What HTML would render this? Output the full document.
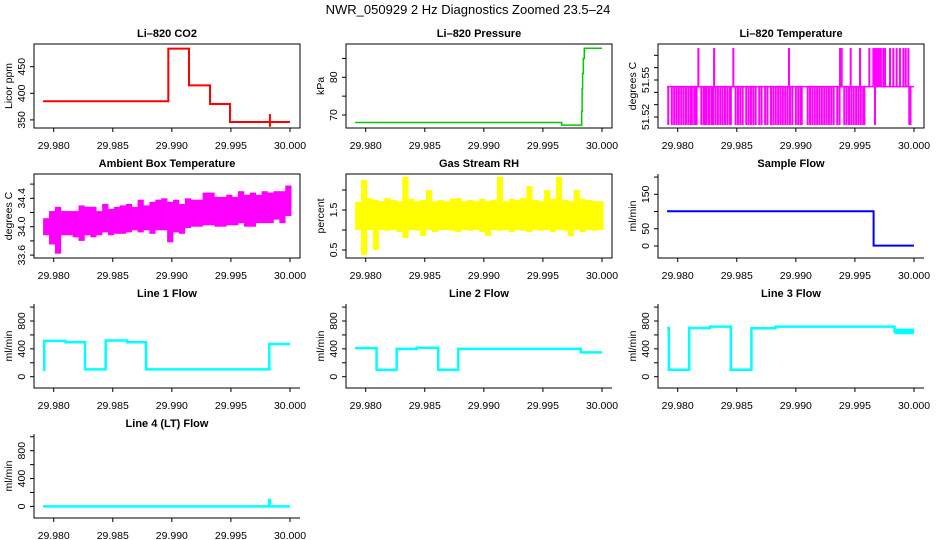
<!DOCTYPE html>
<html><head><meta charset="utf-8">
<style>
html,body{margin:0;padding:0;background:#fff;}
svg{display:block;font-family:"Liberation Sans",Arial,sans-serif;}
</style></head>
<body>
<svg id="chart" width="936" height="540" viewBox="0 0 936 540">
<rect x="0" y="0" width="936" height="540" fill="#fff"/>
<text x="468" y="14" text-anchor="middle" font-size="13">NWR_050929  2 Hz Diagnostics Zoomed 23.5–24</text>
</svg>
<script>
// ---- data ----
const xTicks = [29.980, 29.985, 29.990, 29.995, 30.000];
const xTickLabels = ["29.980", "29.985", "29.990", "29.995", "30.000"];
const xStart = 29.9791;
const xEnd = 30.0;

const co2T = [29.9791, 29.9897, 29.99145, 29.99323, 29.99492];
const co2V = [385, 484, 415, 380, 346];
const co2SpikeT = [29.9983];
const co2SpikeLo = [337];
const co2SpikeHi = [361];

const presT = [29.9791, 29.99659, 29.99828, 29.99832, 29.99836, 29.99842, 29.9985];
const presV = [68.0, 67.3, 71, 77, 81, 85, 87.7];

const tempBase = 51.5446;
const tempLow = 51.5135;
const tempHigh = 51.5759;
const tempDownT = [29.9792,29.9795,29.9797,29.9799,29.9801,29.9803,29.9805,29.9807,29.9809,29.9811,29.9812,29.9814,29.9815,29.9816,
29.9820,29.9822,29.9823,29.9824,29.9826,29.9827,29.9829,29.9830,29.9832,29.9834,29.9836,29.9838,29.9840,29.9842,29.9844,29.9845,
29.9849,29.9851,29.9853,29.9855,29.9858,29.9860,29.9862,29.9864,29.9866,29.9869,29.9871,29.9874,29.9876,29.9879,29.9881,29.9883,29.9885,29.9887,29.9889,29.9891,29.9893,29.9895,29.9897,29.9900,29.9902,29.9904,29.9905,
29.9910,29.9912,29.9914,29.9916,29.9918,29.9920,29.9922,29.9924,29.9926,29.9928,29.9930,29.9932,29.9935,29.9937,
29.9941,29.9943,29.9945,29.9947,29.9949,29.9951,29.9953,29.9955,29.9957,29.9958,29.9967,29.9996,29.9997];
const tempUpT = [29.98175,29.98308,29.98471,29.98942,29.99374,29.99388,29.99464,29.99543,29.99622,29.99656,29.99670,29.99684,29.99698,29.9971,29.9972,29.9974,29.99755,29.99797,29.99825,29.99853,29.99881,29.99910,29.9993,29.99952];

const binStart = 29.9791;
const binWidth = 0.0005;
const ambHi = [34.12,34.22,34.28,34.22,34.22,34.22,34.30,34.28,34.28,34.22,34.32,34.25,34.28,34.30,34.32,34.28,34.38,34.30,34.35,34.38,34.40,34.35,34.38,34.32,34.40,34.38,34.38,34.48,34.48,34.42,34.42,34.45,34.42,34.50,34.45,34.48,34.45,34.50,34.48,34.50,34.50,34.58];
const ambLo = [33.88,33.75,33.62,33.88,33.88,33.85,33.80,33.88,33.85,33.88,33.92,33.88,33.90,33.90,33.92,33.95,33.92,33.95,33.90,33.95,33.95,33.78,33.92,33.90,33.98,34.00,34.00,34.02,34.02,34.00,34.00,34.02,34.02,34.05,34.00,34.00,34.05,34.05,34.05,34.10,34.05,34.15];
const rhHi = [1.70,2.25,1.80,1.75,1.72,1.80,1.75,1.72,2.33,1.78,1.72,1.75,2.00,1.72,1.75,1.72,1.78,1.80,1.72,1.75,1.72,1.78,1.72,1.75,2.33,1.72,1.78,1.75,1.80,2.10,1.75,1.72,2.00,1.78,2.33,1.75,1.72,2.00,1.78,1.75,1.72,1.72];
const rhLo = [1.00,0.38,1.00,0.50,1.00,0.98,1.00,0.95,0.80,1.00,0.98,0.85,1.00,0.95,1.00,1.00,0.98,0.95,1.00,0.98,1.00,0.95,0.85,1.00,0.98,1.00,0.95,1.00,0.98,0.95,1.00,0.98,1.00,0.95,1.00,0.98,0.85,1.00,0.95,1.00,0.98,1.00];

const sampT = [29.9791, 29.99658];
const sampV = [101, 1];

const l1T = [29.9791, 29.9792, 29.981, 29.98265, 29.9844, 29.9862, 29.98781, 29.99825];
const l1V = [100, 515, 495, 105, 520, 495, 105, 470];
const l2T = [29.9791, 29.98092, 29.98262, 29.98431, 29.98614, 29.98783, 29.9982];
const l2V = [410, 98, 400, 415, 98, 400, 350];
const l3T = [29.9791, 29.97925, 29.98097, 29.98274, 29.9845, 29.98624, 29.98827, 29.99835];
const l3V = [700, 100, 700, 720, 100, 695, 720, 650];
const l3BandT = [29.99835, 30.0];
const l3BandV = [610, 690];
const l4T = [29.9791, 29.99822, 29.99830];
const l4V = [0, 90, 0];

// ---- rendering ----
const NS = "http://www.w3.org/2000/svg";
const svg = document.getElementById("chart");
function mk(tag, parent, attrs) {
  const el = document.createElementNS(NS, tag);
  for (const k in attrs) el.setAttribute(k, attrs[k]);
  parent.appendChild(el);
  return el;
}

function panel(col, row, key, title, ylab, yv0, yp0, yv1, yp1, ticks, labels, labelText, fullBox) {
  const ox = col * 312, top = 44 + row * 130;
  const L = ox + 34, R = ox + 300, B = top + 84;
  const g = mk("g", svg, {});
  
  
  const X = x => ox + 53.7 + (x - 29.98) * 11815;
  const Y = v => top + yp0 + (v - yv0) * (yp1 - yp0) / (yv1 - yv0);
  const t = mk("text", g, {x: ox + 167, y: top - 7, "text-anchor": "middle", "font-size": 11, "font-weight": "bold"});
  t.textContent = title;
  
  
  const yl = mk("text", g, {x: 0, y: 0, "text-anchor": "middle", "font-size": 10.5, transform: `translate(${ox + 12},${top + 42}) rotate(-90)`});
  yl.textContent = ylab;
  
  
  let frame;
  if (fullBox) frame = mk("rect", g, {x: L, y: top, width: R - L, height: B - top, fill: "none", stroke: "#000", "stroke-width": 1});
  else frame = mk("path", g, {d: `M${L},${top}V${B}H${R}`, fill: "none", stroke: "#000", "stroke-width": 1});
  
  
  const ya = mk("g", g, {});
  
  
  const yTop = Y(ticks[ticks.length - 1]), yBot = Y(ticks[0]);
  mk("line", ya, {x1: L, x2: L, y1: Math.min(yTop, yBot), y2: Math.max(yTop, yBot), stroke: "#000"});
  ticks.forEach(v => {
    const tk = mk("line", ya, {x1: L - 4, x2: L, y1: Y(v), y2: Y(v), stroke: "#000"});
    
    
  });
  labels.forEach((v, i) => {
    const lb = mk("text", ya, {x: 0, y: 0, "text-anchor": "middle", "font-size": 10.5, transform: `translate(${L - 9},${Y(v)}) rotate(-90)`});
    lb.textContent = labelText[i];
    
    
  });
  const xa = mk("g", g, {});
  
  
  xTicks.forEach((v, i) => {
    const tk = mk("line", xa, {x1: X(v), x2: X(v), y1: B, y2: B + 4, stroke: "#000"});
    
    
    const lb = mk("text", xa, {x: X(v), y: top + 105, "text-anchor": "middle", "font-size": 10.5});
    lb.textContent = xTickLabels[i];
    
    
  });
  const data = mk("g", g, {});
  
  
  return {g: data, X, Y};
}

function stepPath(p, T, V, end, color, w, name) {
  let d = "";
  for (let i = 0; i < T.length; i++) {
    const x0 = p.X(T[i]), x1 = p.X(i + 1 < T.length ? T[i + 1] : end), y = p.Y(V[i]);
    d += (i === 0 ? `M${x0},${y}` : `V${y}`) + `H${x1}`;
  }
  const el = mk("path", p.g, {d, fill: "none", stroke: color, "stroke-width": w});
  
  
}
function bins(p, lo, hi, color, name) {
  for (let i = 0; i < lo.length; i++) {
    const x0 = p.X(binStart + i * binWidth), x1 = p.X(binStart + (i + 1) * binWidth);
    const el = mk("rect", p.g, {x: x0, y: p.Y(hi[i]), width: x1 - x0 + 0.3, height: p.Y(lo[i]) - p.Y(hi[i]), fill: color});
    
    
  }
}

// CO2
let p = panel(0, 0, "co2", "Li–820 CO2", "Licor ppm", 450, 22.7, 400, 49.3, [350, 400, 450], [350, 400, 450], ["350", "400", "450"], true);
stepPath(p, co2T, co2V, xEnd, "#ff0000", 2, "co2-line");
co2SpikeT.forEach((t, i) => {
  const el = mk("line", p.g, {x1: p.X(t), x2: p.X(t), y1: p.Y(co2SpikeLo[i]), y2: p.Y(co2SpikeHi[i]), stroke: "#ff0000", "stroke-width": 2});
  
  
});

// Pressure
p = panel(1, 0, "pressure", "Li–820 Pressure", "kPa", 70, 71, 80, 33.3, [70, 75, 80, 85], [70, 80], ["70", "80"], true);
stepPath(p, presT, presV, xEnd, "#00cc00", 1.5, "pressure-line");

// Temperature
p = panel(2, 0, "li820-temp", "Li–820 Temperature", "degrees C", 51.52, 73, 51.55, 36, [51.52, 51.53, 51.54, 51.55, 51.56, 51.57], [51.52, 51.55], ["51.52", "51.55"], true);
{
  const base = mk("line", p.g, {x1: p.X(xStart), x2: p.X(xEnd), y1: p.Y(tempBase), y2: p.Y(tempBase), stroke: "#ff00ff", "stroke-width": 1.5});
  
  
  tempDownT.forEach(t => {
    const el = mk("line", p.g, {x1: p.X(t), x2: p.X(t), y1: p.Y(tempBase), y2: p.Y(tempLow), stroke: "#ff00ff", "stroke-width": 2});
    
    
  });
  tempUpT.forEach(t => {
    const el = mk("line", p.g, {x1: p.X(t), x2: p.X(t), y1: p.Y(tempBase), y2: p.Y(tempHigh), stroke: "#ff00ff", "stroke-width": 2});
    
    
  });
}

// Ambient
p = panel(0, 1, "ambient-temp", "Ambient Box Temperature", "degrees C", 34.0, 52.7, 34.4, 24.3, [33.6, 33.8, 34.0, 34.2, 34.4, 34.6], [33.6, 34.0, 34.4], ["33.6", "34.0", "34.4"], true);
bins(p, ambLo, ambHi, "#ff00ff", "ambient-temp-bin");

// RH
p = panel(1, 1, "gas-rh", "Gas Stream RH", "percent", 1.5, 36, 0.5, 76, [0.5, 1.0, 1.5, 2.0], [0.5, 1.5], ["0.5", "1.5"], true);
bins(p, rhLo, rhHi, "#ffff00", "gas-rh-bin");

// Sample flow
p = panel(2, 1, "sample-flow", "Sample Flow", "ml/min", 0, 72, 150, 20.3, [0, 50, 100, 150, 200], [0, 50, 150], ["0", "50", "150"], false);
stepPath(p, sampT, sampV, xEnd, "#0000ff", 2, "sample-flow-line");

// Line flows
const fT = [0, 200, 400, 600, 800, 1000], fL = [0, 400, 800], fLT = ["0", "400", "800"];
p = panel(0, 2, "line1-flow", "Line 1 Flow", "ml/min", 0, 72.7, 800, 17, fT, fL, fLT, false);
stepPath(p, l1T, l1V, xEnd, "#00ffff", 2.5, "line1-flow-line");
p = panel(1, 2, "line2-flow", "Line 2 Flow", "ml/min", 0, 72.7, 800, 17, fT, fL, fLT, false);
stepPath(p, l2T, l2V, xEnd, "#00ffff", 2.5, "line2-flow-line");
p = panel(2, 2, "line3-flow", "Line 3 Flow", "ml/min", 0, 72.7, 800, 17, fT, fL, fLT, false);
stepPath(p, l3T, l3V, xEnd, "#00ffff", 2.5, "line3-flow-line");
{
  const el = mk("rect", p.g, {x: p.X(l3BandT[0]), y: p.Y(l3BandV[1]), width: p.X(l3BandT[1]) - p.X(l3BandT[0]), height: p.Y(l3BandV[0]) - p.Y(l3BandV[1]), fill: "#00ffff"});
  
  
}
p = panel(0, 3, "line4-flow", "Line 4 (LT) Flow", "ml/min", 0, 72.4, 800, 16.7, fT, fL, fLT, false);
stepPath(p, l4T, l4V, xEnd, "#00ffff", 2.5, "line4-flow-line");
</script>
</body></html>
